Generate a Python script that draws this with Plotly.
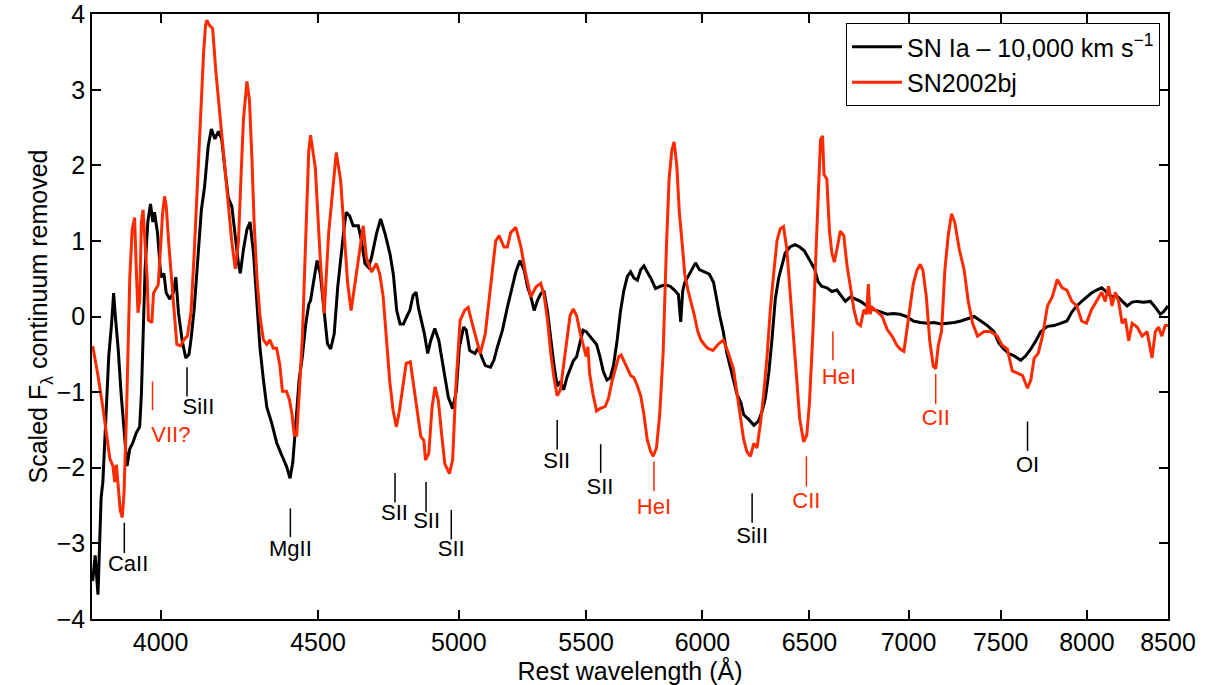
import numpy as np
import plotly.graph_objects as go

# ---------------- data ----------------
ia_wave = [3802, 3809, 3817, 3826, 3831, 3841, 3848, 3856, 3862, 3867, 3875, 3884, 3894, 3901, 3909,
           3918, 3928, 3938, 3943, 3948, 3954, 3962, 3970, 3977, 3982, 3991, 3996, 4001, 4010, 4017,
           4028, 4038, 4046, 4054, 4065, 4076, 4086, 4092, 4102, 4113, 4124, 4134, 4145, 4155, 4166,
           4177, 4187, 4198, 4208, 4219, 4230, 4240, 4246, 4256, 4267, 4277, 4288, 4299, 4309, 4320,
           4331, 4347, 4363, 4379, 4395, 4407, 4416, 4427, 4437, 4448, 4459, 4469, 4475, 4486, 4497,
           4508, 4520, 4532, 4543, 4555, 4567, 4577, 4589, 4596, 4608, 4620, 4638, 4649, 4661, 4673,
           4684, 4701, 4716, 4732, 4749, 4761, 4773, 4785, 4797, 4808, 4820, 4832, 4843, 4851, 4861,
           4873, 4885, 4896, 4911, 4926, 4938, 4949, 4961, 4977, 4991, 5002, 5018, 5028, 5041, 5061,
           5074, 5087, 5100, 5120, 5133, 5146, 5166, 5185, 5205, 5218, 5234, 5251, 5264, 5277, 5290,
           5303, 5316, 5329, 5343, 5356, 5369, 5382, 5395, 5408, 5421, 5434, 5447, 5461, 5474, 5487,
           5500, 5521, 5543, 5557, 5571, 5586, 5600, 5614, 5629, 5643, 5657, 5672, 5686, 5700, 5715,
           5729, 5743, 5757, 5772, 5793, 5814, 5836, 5857, 5879, 5893, 5903, 5912, 5921, 5936, 5950,
           5969, 5986, 6008, 6031, 6050, 6063, 6078, 6094, 6110, 6133, 6157, 6175, 6188, 6211, 6235,
           6258, 6274, 6289, 6305, 6320, 6336, 6352, 6367, 6383, 6406, 6430, 6453, 6475, 6500, 6525,
           6542, 6559, 6585, 6610, 6635, 6661, 6677, 6703, 6728, 6753, 6787, 6821, 6855, 6889, 6922,
           6956, 6990, 7025, 7062, 7098, 7134, 7171, 7207, 7244, 7280, 7316, 7353, 7389, 7426, 7462,
           7489, 7517, 7546, 7575, 7613, 7642, 7671, 7700, 7728, 7767, 7805, 7843, 7881, 7910, 7939,
           7968, 7997, 8027, 8058, 8089, 8120, 8151, 8182, 8213, 8244, 8275, 8306, 8347, 8389, 8420,
           8451, 8471, 8500]
ia_flux = [-3.50, -3.16, -3.68, -2.40, -2.19, -1.30, -0.52, -0.10, 0.31, 0.00, -0.42, -1.04, -1.62, -1.98, -1.75,
           -1.67, -1.54, -1.46, -1.04, -0.26, 0.63, 1.25, 1.49, 1.25, 1.38, 1.10, 0.84, 0.52, 0.57, 0.31,
           0.23, 0.31, 0.52, 0.05, -0.31, -0.55, -0.50, -0.31, 0.10, 0.73, 1.41, 1.72, 2.25, 2.48, 2.35,
           2.45, 2.35, 1.93, 1.57, 1.46, 1.04, 0.70, 0.57, 0.89, 1.15, 1.25, 0.84, 0.16, -0.42, -0.84,
           -1.20, -1.41, -1.67, -1.83, -1.98, -2.14, -1.93, -1.36, -0.84, -0.52, -0.10, 0.16, 0.21, 0.48, 0.74,
           0.56, 0.12, -0.36, -0.43, -0.23, 0.39, 0.78, 1.18, 1.38, 1.33, 1.20, 1.20, 1.00, 0.70, 0.65,
           0.78, 1.09, 1.29, 1.09, 0.83, 0.56, 0.08, -0.10, -0.10, -0.01, 0.08, 0.28, 0.32, 0.12, -0.05,
           -0.23, -0.49, -0.32, -0.16, -0.32, -0.58, -0.80, -1.07, -1.22, -0.98, -0.41, -0.14, -0.18, -0.45, -0.49,
           -0.41, -0.54, -0.65, -0.67, -0.58, -0.41, -0.18, 0.12, 0.43, 0.59, 0.74, 0.61, 0.39, 0.26, 0.08,
           0.21, 0.30, 0.34, 0.07, -0.31, -0.64, -0.92, -0.86, -0.97, -0.81, -0.70, -0.59, -0.53, -0.37, -0.18,
           -0.20, -0.29, -0.37, -0.53, -0.73, -0.84, -0.81, -0.64, -0.31, 0.07, 0.34, 0.53, 0.59, 0.51, 0.48,
           0.62, 0.67, 0.59, 0.51, 0.37, 0.40, 0.42, 0.40, 0.34, 0.29, -0.07, 0.34, 0.45, 0.53, 0.62,
           0.71, 0.62, 0.59, 0.56, 0.45, 0.23, 0.01, -0.20, -0.48, -0.75, -1.03, -1.14, -1.30, -1.36, -1.44,
           -1.38, -1.25, -1.08, -0.75, -0.31, 0.23, 0.51, 0.67, 0.84, 0.92, 0.95, 0.92, 0.87, 0.75, 0.63,
           0.46, 0.40, 0.38, 0.33, 0.35, 0.26, 0.20, 0.26, 0.23, 0.20, 0.14, 0.09, 0.06, 0.03, 0.04,
           0.03, 0.00, -0.06, -0.08, -0.09, -0.08, -0.10, -0.09, -0.08, -0.06, -0.03, 0.00, -0.06, -0.12, -0.20,
           -0.35, -0.43, -0.49, -0.52, -0.58, -0.52, -0.43, -0.32, -0.20, -0.13, -0.12, -0.09, -0.06, 0.06, 0.14,
           0.20, 0.26, 0.31, 0.35, 0.38, 0.32, 0.26, 0.27, 0.20, 0.14, 0.19, 0.20, 0.19, 0.20, 0.12,
           0.03, 0.06, 0.14]

bj_wave = [3802, 3817, 3831, 3841, 3851, 3860, 3865, 3870, 3875, 3881, 3887, 3892, 3899, 3904, 3909,
           3916, 3923, 3928, 3933, 3938, 3943, 3948, 3954, 3960, 3964, 3974, 3979, 3986, 3993, 3999,
           4006, 4012, 4017, 4025, 4033, 4041, 4049, 4060, 4070, 4081, 4092, 4102, 4113, 4124, 4131,
           4137, 4141, 4148, 4159, 4169, 4177, 4187, 4198, 4208, 4219, 4230, 4240, 4248, 4256, 4267,
           4275, 4283, 4290, 4299, 4309, 4320, 4331, 4341, 4352, 4363, 4373, 4382, 4395, 4405, 4414,
           4421, 4429, 4437, 4448, 4459, 4469, 4475, 4491, 4508, 4521, 4536, 4548, 4562, 4577, 4589,
           4601, 4613, 4631, 4655, 4666, 4684, 4701, 4713, 4725, 4736, 4748, 4760, 4772, 4783, 4795,
           4807, 4822, 4836, 4848, 4860, 4871, 4877, 4889, 4901, 4912, 4924, 4936, 4948, 4965, 4977,
           4989, 5005, 5022, 5035, 5054, 5081, 5100, 5120, 5140, 5153, 5172, 5185, 5198, 5218, 5238,
           5257, 5277, 5297, 5316, 5329, 5343, 5356, 5369, 5382, 5395, 5408, 5421, 5434, 5447, 5461,
           5474, 5487, 5500, 5507, 5514, 5528, 5543, 5557, 5579, 5593, 5607, 5621, 5636, 5646, 5657,
           5672, 5686, 5700, 5715, 5729, 5743, 5757, 5772, 5783, 5797, 5811, 5826, 5840, 5852, 5864,
           5874, 5886, 5897, 5907, 5921, 5936, 5950, 5964, 5979, 5993, 6008, 6023, 6047, 6070, 6094,
           6117, 6141, 6157, 6172, 6188, 6203, 6219, 6235, 6250, 6266, 6281, 6297, 6312, 6328, 6344,
           6359, 6375, 6391, 6406, 6422, 6438, 6453, 6472, 6487, 6500, 6517, 6534, 6547, 6554, 6564,
           6571, 6585, 6598, 6610, 6622, 6635, 6652, 6669, 6686, 6703, 6720, 6737, 6753, 6770, 6784,
           6793, 6801, 6813, 6838, 6864, 6889, 6914, 6939, 6956, 6976, 6990, 7007, 7025, 7044, 7062,
           7076, 7094, 7112, 7131, 7144, 7158, 7175, 7193, 7211, 7229, 7247, 7271, 7298, 7320, 7344,
           7371, 7407, 7444, 7480, 7508, 7537, 7565, 7594, 7623, 7652, 7671, 7690, 7713, 7738, 7767,
           7795, 7824, 7853, 7881, 7910, 7939, 7968, 7997, 8027, 8058, 8089, 8110, 8130, 8151, 8171,
           8192, 8213, 8233, 8254, 8275, 8306, 8337, 8368, 8399, 8420, 8440, 8461, 8482, 8500]
bj_flux = [-0.39, -0.78, -1.20, -1.51, -1.88, -1.98, -2.19, -1.96, -2.25, -2.56, -2.66, -2.35, -1.36, -0.37, 0.52,
           1.15, 1.31, 0.63, 0.05, 0.21, 1.25, 1.41, 0.94, 0.52, -0.05, -0.08, 0.31, 0.37, 0.42, 0.84,
           1.36, 1.59, 1.46, 0.94, 0.52, 0.05, -0.37, -0.39, -0.31, -0.26, 0.05, 0.84, 1.93, 2.87, 3.50,
           3.86, 3.92, 3.86, 3.81, 3.24, 2.87, 2.45, 1.88, 1.41, 0.99, 0.63, 0.99, 1.83, 2.61, 3.11,
           2.87, 2.09, 1.25, 0.52, 0.00, -0.31, -0.37, -0.31, -0.42, -0.42, -0.63, -0.99, -0.99, -1.10, -1.31,
           -1.57, -1.57, -1.04, -0.26, 1.04, 2.19, 2.40, 1.97, 0.74, 0.04, 1.10, 1.62, 2.17, 1.80, 1.10,
           0.44, 0.08, 0.57, 1.20, 0.78, 0.59, 0.70, 0.56, 0.26, -0.23, -0.85, -1.24, -1.46, -1.24, -0.93,
           -0.62, -0.60, -0.98, -1.29, -1.59, -1.64, -1.90, -1.81, -1.20, -0.93, -1.11, -1.55, -1.95, -2.08, -1.90,
           -0.93, -0.05, 0.08, 0.12, -0.14, -0.49, -0.23, 0.39, 1.00, 1.07, 0.92, 0.92, 1.11, 1.18, 0.92,
           0.56, 0.26, 0.39, 0.44, 0.29, -0.04, -0.48, -0.81, -1.05, -0.97, -0.64, -0.31, 0.01, 0.10, 0.01,
           -0.20, -0.37, -0.53, -0.40, -0.75, -1.03, -1.25, -1.22, -1.19, -1.08, -0.86, -0.70, -0.53, -0.51, -0.59,
           -0.70, -0.78, -0.81, -0.92, -1.05, -1.30, -1.63, -1.79, -1.85, -1.74, -1.30, -0.48, 0.89, 1.82, 2.20,
           2.31, 1.99, 1.38, 1.05, 0.56, 0.34, 0.18, 0.01, -0.20, -0.31, -0.37, -0.42, -0.45, -0.37, -0.31,
           -0.48, -0.70, -1.03, -1.36, -1.63, -1.79, -1.85, -1.68, -1.74, -1.41, -1.03, -0.53, 0.07, 0.56, 1.00,
           1.16, 1.19, 0.89, 0.34, -0.31, -0.92, -1.36, -1.66, -1.57, -1.14, -0.20, 1.00, 1.99, 2.34, 2.39,
           1.88, 1.82, 1.13, 0.84, 0.72, 0.89, 1.13, 1.07, 0.66, 0.38, 0.09, -0.09, -0.12, 0.09, 0.03,
           0.43, 0.03, 0.12, 0.06, 0.00, -0.17, -0.26, -0.38, -0.43, -0.46, -0.20, 0.09, 0.43, 0.61, 0.69,
           0.61, 0.26, -0.32, -0.66, -0.69, -0.38, -0.20, 0.61, 1.07, 1.36, 1.24, 0.89, 0.61, 0.20, -0.09,
           -0.26, -0.20, -0.20, -0.26, -0.38, -0.43, -0.72, -0.75, -0.78, -0.95, -0.84, -0.55, -0.49, -0.26, 0.14,
           0.26, 0.49, 0.38, 0.35, 0.20, 0.14, -0.06, -0.09, 0.09, 0.20, 0.32, 0.20, 0.40, 0.14, 0.32,
           0.20, -0.09, -0.03, -0.32, -0.09, -0.14, -0.26, -0.20, -0.55, -0.20, -0.14, -0.26, -0.12, -0.12]

# line identifications
label_names = ["CaII", "VII?", "SiII", "MgII", "SII", "SII", "SII", "SII", "SII",
               "HeI", "SiII", "CII", "HeI", "CII", "OI"]
label_is_red = [False, True, False, False, False, False, False, False, False,
                True, False, True, True, True, False]
label_tick_wave = [3893, 3976, 4080, 4408, 4767, 4879, 4972, 5382, 5560, 5786, 6227, 6485, 6615, 7144, 7652]
label_tick_top = [-2.73, -0.86, -0.67, -2.54, -2.07, -2.19, -2.56, -1.37, -1.69, -1.92, -2.34, -1.85, -0.20, -0.76, -1.39]
label_tick_bottom = [-3.13, -1.24, -1.06, -2.92, -2.46, -2.59, -2.95, -1.76, -2.07, -2.31, -2.73, -2.25, -0.58, -1.16, -1.78]
label_text_wave = [3904, 4031, 4115, 4408, 4765, 4881, 4972, 5380, 5557, 5786, 6227, 6485, 6645, 7144, 7652]
label_text_y = [-3.29, -1.59, -1.22, -3.10, -2.62, -2.73, -3.10, -1.93, -2.27, -2.54, -2.92, -2.46, -0.82, -1.36, -1.99]

x_ticks = [4000, 4500, 5000, 5500, 6000, 6500, 7000, 7500, 8000, 8500]
y_ticks = [-4, -3, -2, -1, 0, 1, 2, 3, 4]

BLACK = "#000000"
RED = "#ff2a00"
FONT = "Liberation Sans, Arial, Helvetica, sans-serif"

fig = go.Figure()

fig.add_trace(go.Scatter(x=ia_wave, y=ia_flux, mode="lines",
                         line=dict(color=BLACK, width=3),
                         name="SN Ia \u2013 10,000 km s<sup>\u22121</sup>"))
fig.add_trace(go.Scatter(x=bj_wave, y=bj_flux, mode="lines",
                         line=dict(color=RED, width=3), name="SN2002bj"))

# tick marks for line IDs (one trace per colour)
for red in (False, True):
    xs, ys = [], []
    for w, t, b, r in zip(label_tick_wave, label_tick_top, label_tick_bottom, label_is_red):
        if r == red:
            xs += [w, w, None]
            ys += [t, b, None]
    fig.add_trace(go.Scatter(x=xs, y=ys, mode="lines", showlegend=False, hoverinfo="skip",
                             line=dict(color=RED if red else BLACK, width=1.5)))

fig.add_trace(go.Scatter(x=label_text_wave, y=label_text_y, mode="text", text=label_names,
                         textposition="middle center", showlegend=False, hoverinfo="skip",
                         textfont=dict(family=FONT, size=22,
                                       color=[RED if r else BLACK for r in label_is_red])))

fig.update_layout(
    width=1206, height=685,
    margin=dict(l=92, r=38, t=14, b=66, autoexpand=False),
    paper_bgcolor="white", plot_bgcolor="white",
    font=dict(family=FONT, size=25, color="black"),
    legend=dict(x=0.9926, y=0.985, xanchor="right", yanchor="top",
                bgcolor="white", bordercolor="black", borderwidth=1,
                font=dict(family=FONT, size=25), itemwidth=50, tracegroupgap=0),
)
fig.update_xaxes(type="log", range=[np.log10(3800), np.log10(8500)],
                 tickvals=x_ticks, ticktext=[str(v) for v in x_ticks], automargin=False,
                 showline=True, linecolor="black", linewidth=1.5, mirror="ticks",
                 ticks="inside", ticklen=9, tickwidth=1.5, tickcolor="black",
                 showgrid=False, zeroline=False,
                 title=dict(text="Rest wavelength (\u00c5)", standoff=2, font=dict(size=25)))
fig.update_yaxes(range=[-4.003, 4.003], tickvals=y_ticks,
                 ticktext=["\u22124", "\u22123", "\u22122", "\u22121", "0", "1", "2", "3", "4"],
                 ticklabeloverflow="allow", automargin=False,
                 showline=True, linecolor="black", linewidth=1.5, mirror="ticks",
                 ticks="inside", ticklen=9, tickwidth=1.5, tickcolor="black",
                 showgrid=False, zeroline=False,
                 title=dict(text="Scaled F<sub>\u03bb</sub> continuum removed", standoff=0,
                            font=dict(size=25)))

fig.write_html("out.html", config={"displayModeBar": False},
               post_script="document.body.style.margin='0px';")
